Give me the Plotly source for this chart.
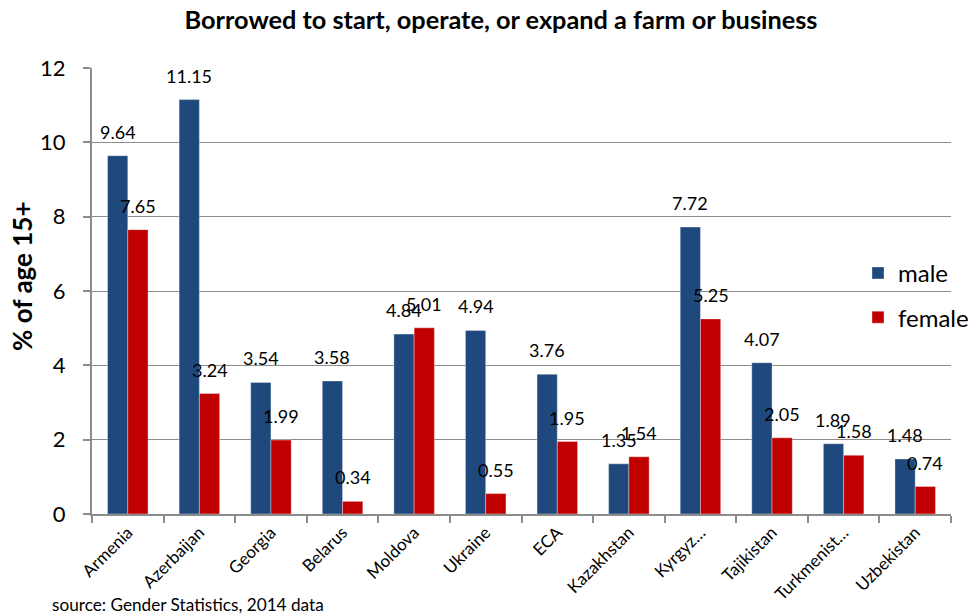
import plotly.graph_objects as go

# Share of adults (15+) who borrowed to start, operate or expand a farm/business
countries = ["Armenia", "Azerbaijan", "Georgia", "Belarus", "Moldova", "Ukraine",
             "ECA", "Kazakhstan", "Kyrgyz…", "Tajikistan", "Turkmenist…", "Uzbekistan"]
male = [9.64, 11.15, 3.54, 3.58, 4.84, 4.94, 3.76, 1.35, 7.72, 4.07, 1.89, 1.48]
female = [7.65, 3.24, 1.99, 0.34, 5.01, 0.55, 1.95, 1.54, 5.25, 2.05, 1.58, 0.74]
y_ticks = [0, 2, 4, 6, 8, 10, 12]

BLUE = "#1F497D"
RED = "#C00000"
GRID = "#8C8C8C"
FONT = "Lato, 'Open Sans', sans-serif"

PLOT_W, PLOT_H = 859, 446

fig = go.Figure()
fig.add_trace(go.Bar(name="male", x=countries, y=male, marker_color=BLUE,
                     marker_line=dict(color="rgba(255,255,255,0.35)", width=1),
                     legendgroup="m"))
fig.add_trace(go.Bar(name="female", x=countries, y=female, marker_color=RED,
                     marker_line=dict(color="rgba(255,255,255,0.35)", width=1),
                     legendgroup="f"))

# value labels floating above each bar
half_bar_px = 10.2
for c, v in zip(countries, male):
    fig.add_annotation(x=c, y=v, text=f"{v:.2f}", showarrow=False, xshift=-half_bar_px,
                       yshift=24, yanchor="middle", font=dict(family=FONT, size=18, color="#000"))
for c, v in zip(countries, female):
    fig.add_annotation(x=c, y=v, text=f"{v:.2f}", showarrow=False, xshift=half_bar_px,
                       yshift=24, yanchor="middle", font=dict(family=FONT, size=18, color="#000"))

# y-axis title
fig.add_annotation(text="<b>% of age 15+</b>", xref="paper", yref="paper",
                   x=-70 / PLOT_W, y=(514 - 276) / PLOT_H, xanchor="center", yanchor="middle",
                   textangle=-90, showarrow=False,
                   font=dict(family=FONT, size=26, color="#000"))

fig.add_annotation(text="source: Gender Statistics, 2014 data", xref="paper", yref="paper",
                   x=-42 / PLOT_W, y=-90 / PLOT_H, xanchor="left", yanchor="middle", showarrow=False,
                   font=dict(family=FONT, size=17.2, color="#000"))

fig.update_layout(
    width=971, height=615,
    margin=dict(l=92, r=20, t=68, b=101, autoexpand=False),
    paper_bgcolor="white", plot_bgcolor="white",
    barmode="group", bargap=0.434, bargroupgap=0,
    title=dict(text="<b>Borrowed to start, operate, or expand a farm or business</b>",
               x=501 / 971, xref="container", xanchor="center",
               y=1 - 20 / 615, yref="container", yanchor="middle",
               font=dict(family=FONT, size=25.3, color="#000")),
    legend=dict(x=(858 - 92) / PLOT_W, y=0.59, xanchor="left", yanchor="top",
                bgcolor="rgba(0,0,0,0)", tracegroupgap=10,
                font=dict(family=FONT, size=24, color="#000")),
    showlegend=True,
)

fig.update_xaxes(type="category", showline=True, linecolor=GRID, linewidth=2,
                 ticks="outside", tickson="boundaries", ticklen=7, tickcolor=GRID, tickwidth=2,
                 tickangle=-45, tickfont=dict(family=FONT, size=17, color="#000"),
                 showgrid=False, automargin=False)
fig.update_yaxes(range=[0, 12], tickvals=y_ticks, showline=True, linecolor=GRID, linewidth=2,
                 ticks="outside", ticklen=7, tickcolor=GRID, tickwidth=2,
                 ticklabelstandoff=13, automargin=False,
                 showgrid=True, gridcolor=GRID, gridwidth=1.3, zeroline=False,
                 tickfont=dict(family=FONT, size=22, color="#000"))

fig.write_html("out.html")
